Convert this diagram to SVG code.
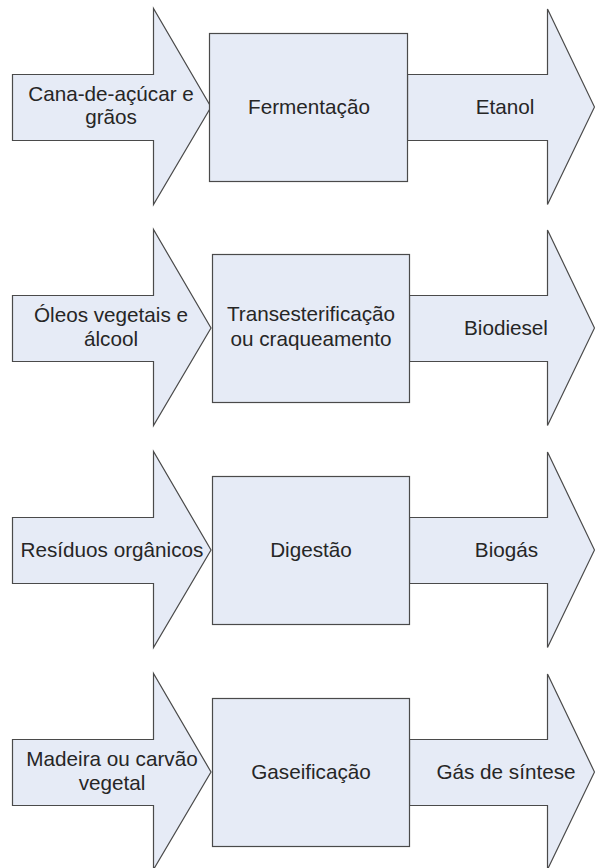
<svg xmlns="http://www.w3.org/2000/svg" width="595" height="868" viewBox="0 0 595 868">
<style>
.s{fill:#e6ebf6;stroke:#4a4a4a;stroke-width:1.2;stroke-linejoin:miter}
.t{font-family:"Liberation Sans",Arial,sans-serif;font-size:20.7px;fill:#262626;text-anchor:middle}
</style>
<rect width="595" height="868" fill="#ffffff"/>
<defs>
<polygon id="inArrow" points="12.5,74.5 153.5,74.5 153.5,8.5 211,107 153.5,204.5 153.5,140.5 12.5,140.5"/>
<polygon id="outArrow" points="409.5,74.5 547.5,74.5 547.5,9 594.5,107 547.5,204.5 547.5,140.5 409.5,140.5"/>
</defs>

<g id="row1">
<g id="in1"><use href="#inArrow" class="s"/><text class="t" x="111" y="100.5">Cana-de-açúcar e</text><text class="t" x="111" y="124">grãos</text></g>
<g id="out1"><polygon class="s" points="407.5,74.5 547.5,74.5 547.5,9 594.5,107 547.5,204.5 547.5,140.5 407.5,140.5"/><text class="t" x="505" y="113.5">Etanol</text></g>
<g id="proc1"><rect class="s" x="209.5" y="33.5" width="198" height="148"/><text class="t" x="309" y="113.5">Fermentação</text></g>
</g>

<g id="row2" transform="translate(0,221)">
<g id="in2"><use href="#inArrow" class="s"/><text class="t" x="111" y="100.5">Óleos vegetais e</text><text class="t" x="111" y="125">álcool</text></g>
<g id="out2"><use href="#outArrow" class="s"/><text class="t" x="506" y="113.5">Biodiesel</text></g>
<g id="proc2"><rect class="s" x="212.5" y="33.5" width="197" height="148"/><text class="t" x="311" y="100">Transesterificação</text><text class="t" x="311" y="125">ou craqueamento</text></g>
</g>

<g id="row3" transform="translate(0,443)">
<g id="in3"><use href="#inArrow" class="s"/><text class="t" x="112" y="113.5">Resíduos orgânicos</text></g>
<g id="out3"><use href="#outArrow" class="s"/><text class="t" x="506.5" y="113.5">Biogás</text></g>
<g id="proc3"><rect class="s" x="212.5" y="33.5" width="197" height="148"/><text class="t" x="311" y="113.5">Digestão</text></g>
</g>

<g id="row4" transform="translate(0,665)">
<g id="in4"><use href="#inArrow" class="s"/><text class="t" x="112" y="100.5">Madeira ou carvão</text><text class="t" x="112" y="124.5">vegetal</text></g>
<g id="out4"><use href="#outArrow" class="s"/><text class="t" x="506" y="113.5">Gás de síntese</text></g>
<g id="proc4"><rect class="s" x="212.5" y="33.5" width="197" height="148"/><text class="t" x="311" y="113.5">Gaseificação</text></g>
</g>
</svg>
